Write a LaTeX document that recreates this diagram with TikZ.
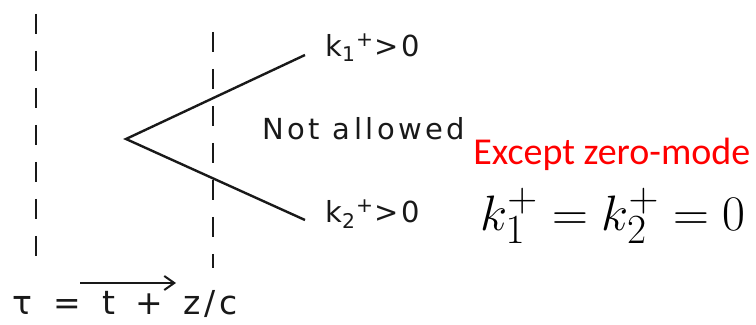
\documentclass[tikz,border=0pt]{standalone}
\usepackage{fontspec}
\usepackage{tikz}
\usetikzlibrary{
  arrows.meta,
  positioning
}
\newfontfamily\letterfont{DejaVu Sans}[LetterSpace=12]
\newfontfamily\slidefont{Carlito}
\definecolor{InkBlack}{RGB}{25,25,25}
\definecolor{ModeRed}{RGB}{255,0,0}
\tikzset{
  letter/.style={
    font=\letterfont\fontsize{14.5}{17}\selectfont,
    text=InkBlack,
    inner sep=0pt,
    anchor=base west
  },
  lightfront/.style={draw=InkBlack,line width=1.1pt,dash pattern=on 10pt off 8.5pt},
  ray/.style={draw=InkBlack,line width=1.2pt},
  timearrow/.style={-{Straight Barb[length=5pt,width=7pt]},draw=InkBlack,line width=1pt},
  note/.style={font=\slidefont\fontsize{19}{22}\selectfont,text=ModeRed,inner sep=0pt,anchor=base west},
  zeromode/.style={font=\fontsize{30.5}{34}\selectfont,inner sep=0pt,anchor=base west}
}

\begin{document}
\begin{tikzpicture}[x=0.5pt,y=-0.5pt]
  \useasboundingbox (0,0) rectangle (756,325);

  % light fronts
  \coordinate (lefttop) at (36,14);
  \coordinate (leftbot) at (36,264);
  \coordinate (righttop) at (213,32);
  \coordinate (rightbot) at (213,268);
  \draw[lightfront] (lefttop) -- (leftbot);
  \draw[lightfront] (righttop) -- (rightbot);

  % pair creation
  \coordinate (apex) at (126,139);
  \coordinate (upend) at (305,55);
  \coordinate (lowend) at (305,220);
  \draw[ray] (upend) -- (apex) -- (lowend);

  \node[letter] (kone) at (325,57) {k\textsubscript{1}\textsuperscript{+}>0};
  \node[letter] (ktwo) at (325,223) {k\textsubscript{2}\textsuperscript{+}>0};
  \node[letter] (forbid) at (262,140) {Not allowed};

  % time direction
  \node[letter,font=\letterfont\fontsize{16.5}{19}\selectfont] (tau) at (12,315)
    {τ\hspace{0.65em}=\hspace{0.65em}t\hspace{0.6em}+\hspace{0.6em}z/c};
  \coordinate (tstart) at (80,283);
  \coordinate (tend) at (176,283);
  \draw[timearrow] (tstart) -- (tend);

  \node[note] (except) at (473,165) {Except zero-mode};
  \node[zeromode] (kzero) at (480,231) {$k_1^+ = k_2^+ = 0$};
\end{tikzpicture}
\end{document}
